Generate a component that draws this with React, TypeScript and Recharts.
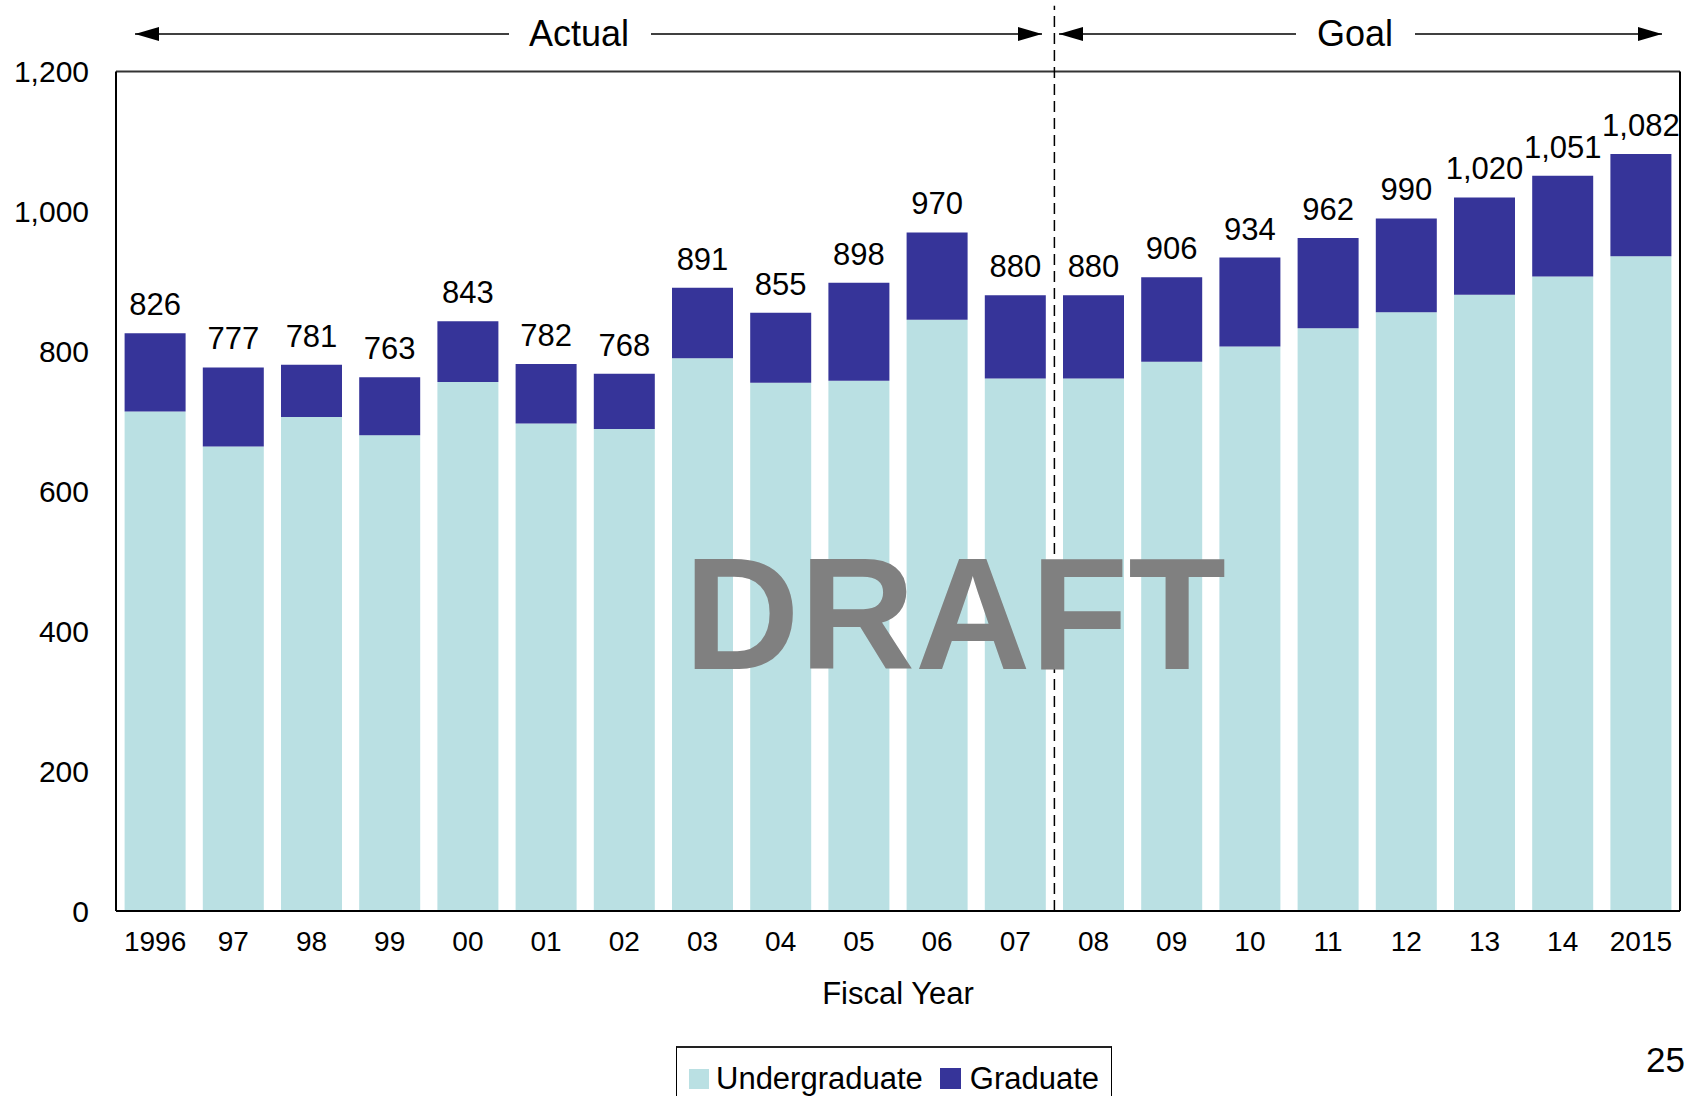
import React from 'react';
import { BarChart, Bar, XAxis, YAxis, ReferenceLine, LabelList } from 'recharts';

// Fiscal years, as printed under the bars
const years = ['1996', '97', '98', '99', '00', '01', '02', '03', '04', '05', '06', '07', '08', '09', '10', '11', '12', '13', '14', '2015'];
const undergraduate = [714, 664, 706, 680, 756, 697, 689, 790, 755, 758, 845, 761, 761, 785, 807, 833, 856, 881, 907, 936];
const graduate = [112, 113, 75, 83, 87, 85, 79, 101, 100, 140, 125, 119, 119, 121, 127, 129, 134, 139, 144, 146];
const totals = [826, 777, 781, 763, 843, 782, 768, 891, 855, 898, 970, 880, 880, 906, 934, 962, 990, 1020, 1051, 1082];
const yTicks = [0, 200, 400, 600, 800, 1000, 1200];

const LIGHT = '#BAE0E3';
const DARK = '#363499';
const FONT = '"Liberation Sans", Arial, sans-serif';

const data = years.map((year, i) => ({
  year,
  Undergraduate: undergraduate[i],
  Graduate: graduate[i],
  total: totals[i],
}));

const fmt = (v: number) => v.toLocaleString('en-US');

function LegendBox() {
  return (
    <div
      style={{
        position: 'absolute',
        left: 676,
        top: 1046,
        width: 436,
        height: 60,
        border: '1px solid #000',
        borderTop: '2px solid #222',
        boxSizing: 'border-box',
        display: 'flex',
        alignItems: 'center',
        fontSize: 31,
        color: '#000',
        paddingLeft: 12,
        paddingTop: 4,
        whiteSpace: 'nowrap',
      }}
    >
      <span style={{ width: 20, height: 20, background: LIGHT, display: 'inline-block', marginRight: 7 }} />
      <span style={{ marginRight: 17 }}>Undergraduate</span>
      <span style={{ width: 21, height: 21, background: DARK, display: 'inline-block', marginRight: 9 }} />
      <span>Graduate</span>
    </div>
  );
}

export default function App() {
  return (
    <div
      style={{
        position: 'absolute',
        left: 0,
        top: 0,
        width: 1698,
        height: 1096,
        overflow: 'hidden',
        background: '#fff',
        fontFamily: FONT,
      }}
    >
      <BarChart
        width={1698}
        height={1096}
        data={data}
        margin={{ top: 71.5, right: 18, bottom: 85, left: 16 }}
        barCategoryGap="11%"
      >
        <XAxis
          dataKey="year"
          height={100}
          tickLine={false}
          tickSize={0}
          tickMargin={20}
          axisLine={{ stroke: '#000', strokeWidth: 2 }}
          tick={{ fill: '#000', fontSize: 28, fontFamily: FONT }}
          interval={0}
          label={{ value: 'Fiscal Year', position: 'insideBottom', offset: 7, fill: '#000', fontSize: 31, fontFamily: FONT }}
        />
        <YAxis
          width={100}
          domain={[0, 1200]}
          ticks={yTicks}
          tickFormatter={fmt}
          tickLine={false}
          tickSize={0}
          tickMargin={27}
          axisLine={{ stroke: '#000', strokeWidth: 2 }}
          tick={{ fill: '#000', fontSize: 30, fontFamily: FONT }}
        />
        <ReferenceLine y={1200} stroke="#333" strokeWidth={2} />
        <ReferenceLine x="2015" position="end" stroke="#000" strokeWidth={2} />
        <Bar dataKey="Undergraduate" stackId="a" fill={LIGHT} isAnimationActive={false} />
        <Bar dataKey="Graduate" stackId="a" fill={DARK} isAnimationActive={false}>
          <LabelList
            dataKey="total"
            position="top"
            offset={18}
            formatter={(v: any) => fmt(Number(v))}
            style={{ fill: '#000', fontSize: 31, fontFamily: FONT }}
          />
        </Bar>
        <ReferenceLine
          segment={[{ x: '07', y: 0 }, { x: '07', y: 1294 }]}
          position="end"
          ifOverflow="visible"
          stroke="#000"
          strokeWidth={1.5}
          strokeDasharray="11 6"
        />
      </BarChart>

      <LegendBox />

      {/* period arrows, watermark and page number */}
      <svg
        width={1698}
        height={1096}
        style={{ position: 'absolute', left: 0, top: 0, pointerEvents: 'none' }}
      >
        <defs>
          <marker id="arrow" markerWidth="24" markerHeight="14" refX="24" refY="7" orient="auto" markerUnits="userSpaceOnUse">
            <path d="M0,0 L24,7 L0,14 Z" fill="#000" />
          </marker>
        </defs>
        <g stroke="#000" strokeWidth={1.5} fill="none">
          <line x1={509} y1={34} x2={135} y2={34} markerEnd="url(#arrow)" />
          <line x1={651} y1={34} x2={1042} y2={34} markerEnd="url(#arrow)" />
          <line x1={1296} y1={34} x2={1059} y2={34} markerEnd="url(#arrow)" />
          <line x1={1415} y1={34} x2={1662} y2={34} markerEnd="url(#arrow)" />
        </g>
        <text x={579} y={46} textAnchor="middle" fontSize={36} fill="#000" fontFamily={FONT}>Actual</text>
        <text x={1355} y={46} textAnchor="middle" fontSize={36} fill="#000" fontFamily={FONT}>Goal</text>
        <text x={955} y={669} textAnchor="middle" fontSize={160} fontWeight="bold" fill="#808080" fontFamily={FONT}>DRAFT</text>
        <text x={1685} y={1072} textAnchor="end" fontSize={35} fill="#000" fontFamily={FONT}>25</text>
      </svg>
    </div>
  );
}
